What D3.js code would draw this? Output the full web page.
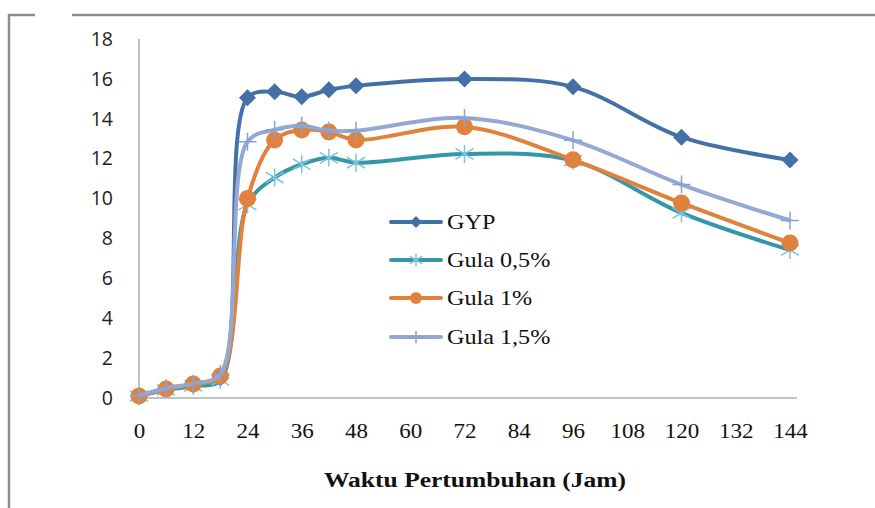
<!DOCTYPE html>
<html><head><meta charset="utf-8">
<script src="https://cdn.jsdelivr.net/npm/d3@7"></script>
<style>body{margin:0;background:#fff}svg{display:block}</style>
</head><body>
<svg id="c" width="875" height="508"></svg>
<script>
const hours = [0, 6, 12, 18, 24, 30, 36, 42, 48, 72, 96, 120, 144];
const gyp    = [0.1, 0.45, 0.65, 1.0, 15.05, 15.35, 15.1, 15.45, 15.65, 16.0, 15.6, 13.08, 11.93];
const gula05 = [0.1, 0.4, 0.6, 0.9, 9.7, 11.05, 11.72, 12.04, 11.8, 12.24, 11.9, 9.28, 7.42];
const gula1  = [0.1, 0.45, 0.7, 1.1, 10.0, 12.94, 13.44, 13.34, 12.94, 13.6, 11.94, 9.78, 7.77];
const gula15 = [0.1, 0.5, 0.72, 1.2, 12.85, 13.45, 13.65, 13.4, 13.4, 14.04, 12.92, 10.7, 8.9];
const seriesNames = ["GYP", "Gula 0,5%", "Gula 1%", "Gula 1,5%"];
const xTicks = [0, 12, 24, 36, 48, 60, 72, 84, 96, 108, 120, 132, 144];
const yTicks = [0, 2, 4, 6, 8, 10, 12, 14, 16, 18];
const xTitle = "Waktu Pertumbuhan (Jam)";

const svg = d3.select("#c");
const x = d3.scaleLinear().domain([0, 144]).range([139, 790]);
const y = d3.scaleLinear().domain([0, 18]).range([398, 39]);

// outer frame fragments
svg.append("path").attr("d", "M9,508V15H35").attr("fill", "none").attr("stroke", "#8c8c8c").attr("stroke-width", 2.5);
svg.append("line").attr("x1", 72).attr("x2", 875).attr("y1", 15).attr("y2", 15).attr("stroke", "#8c8c8c").attr("stroke-width", 2.5);

// axes
const yAx = svg.append("g").attr("transform", "translate(139,0)")
  .call(d3.axisLeft(y).tickValues(yTicks).tickSize(0).tickPadding(26).tickFormat(d3.format("d")));
yAx.select(".domain").attr("stroke", "#868686").attr("d", `M0,${y(18)}V${y(0)}`);
yAx.selectAll("text").attr("font-family", "'Open Sans', 'Noto Sans', sans-serif").attr("font-size", 19.5).attr("fill", "#222");

const xAx = svg.append("g").attr("transform", `translate(0,${y(0)})`)
  .call(d3.axisBottom(x).tickValues(xTicks).tickSize(0).tickPadding(26).tickFormat(d3.format("d")));
xAx.select(".domain").attr("stroke", "#868686").attr("d", `M${x(0)},0H797`);
xAx.selectAll("text").attr("font-family", "'Liberation Serif', serif").attr("font-size", 20).attr("fill", "#111")
  .each(function() { const w = this.getComputedTextLength(); d3.select(this).attr("textLength", w * 1.15).attr("lengthAdjust", "spacingAndGlyphs"); });

svg.append("text").attr("x", 475).attr("y", 487).attr("text-anchor", "middle")
  .attr("font-family", "'Liberation Serif', serif").attr("font-weight", "bold").attr("font-size", 20)
  .attr("textLength", 302).attr("lengthAdjust", "spacingAndGlyphs").attr("fill", "#111").text(xTitle);

const data = [gyp, gula05, gula1, gula15];
const lineColors = ["#4470A8", "#3497A9", "#E0823D", "#93A9D3"];
const markerColors = ["#4470A8", "#7CC4DB", "#E0823D", "#86A2D4"];
const markers = ["diamond", "star", "circle", "plus"];

const line = d3.line().x(d => x(d[0])).y(d => y(d[1])).curve(d3.curveCatmullRom.alpha(0.5));

function drawMarker(g, type, cx, cy, color, s) {
  if (type === "diamond") {
    const r = 8.5 * s;
    g.append("path").attr("d", `M${cx},${cy-r}L${cx+r},${cy}L${cx},${cy+r}L${cx-r},${cy}Z`).attr("fill", color);
  } else if (type === "circle") {
    g.append("circle").attr("cx", cx).attr("cy", cy).attr("r", 8.5 * s).attr("fill", color);
  } else if (type === "star") {
    const r = 9 * s;
    g.append("path").attr("d",
      `M${cx-r},${cy-r*0.6}L${cx+r},${cy+r*0.6}M${cx-r},${cy+r*0.6}L${cx+r},${cy-r*0.6}M${cx},${cy-r}V${cy+r}`)
      .attr("stroke", color).attr("stroke-width", 1.5).attr("fill", "none");
  } else if (type === "plus") {
    const r = 9 * s;
    g.append("path").attr("d", `M${cx-r},${cy}H${cx+r}M${cx},${cy-r}V${cy+r}`)
      .attr("stroke", color).attr("stroke-width", 1.5).attr("fill", "none");
  }
}

data.forEach((vals, i) => {
  const g = svg.append("g");
  const pts = hours.map((h, j) => [h, vals[j]]);
  g.append("path").datum(pts).attr("d", line).attr("fill", "none")
    .attr("stroke", lineColors[i]).attr("stroke-width", 4).attr("stroke-linejoin", "round");
  pts.forEach(p => drawMarker(g, markers[i], x(p[0]), y(p[1]), markerColors[i], 1));
});

// legend
const legY = [222, 260, 298, 337];
seriesNames.forEach((name, i) => {
  const g = svg.append("g");
  g.append("line").attr("x1", 391).attr("x2", 441).attr("y1", legY[i]).attr("y2", legY[i])
    .attr("stroke", lineColors[i]).attr("stroke-width", 4).attr("stroke-linecap", "round");
  drawMarker(g, markers[i], 416, legY[i], markerColors[i], 0.7);
  g.append("text").attr("x", 447).attr("y", legY[i] + 7).attr("font-family", "'Liberation Serif', serif")
    .attr("font-size", 21).attr("fill", "#111").text(name)
    .each(function() { const w = this.getComputedTextLength(); d3.select(this).attr("textLength", w * 1.15).attr("lengthAdjust", "spacingAndGlyphs"); });
});
</script>
</body></html>
